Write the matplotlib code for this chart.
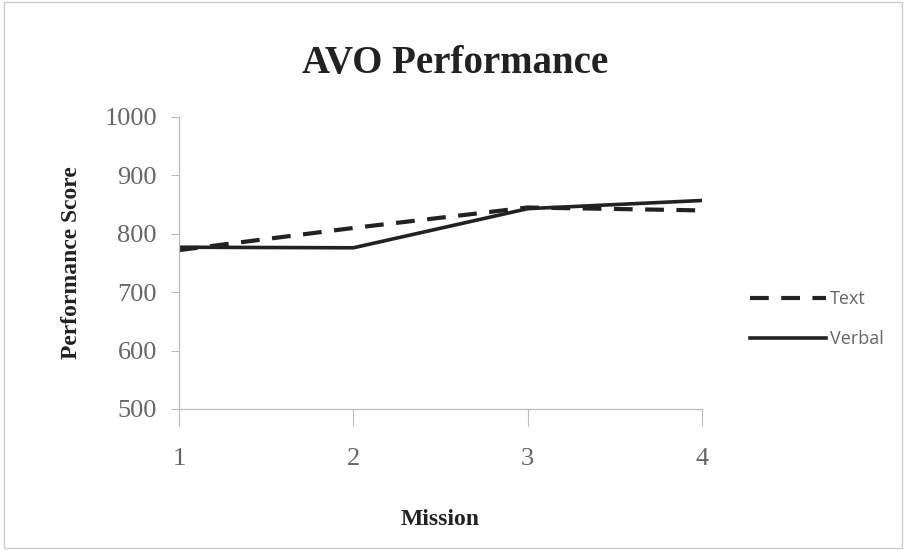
import matplotlib.pyplot as plt
from matplotlib.lines import Line2D

missions = [1, 2, 3, 4]
text_scores = [772, 810, 845, 840]
verbal_scores = [777, 776, 843, 857]
y_ticks = [500, 600, 700, 800, 900, 1000]

fig = plt.figure(figsize=(9.06, 5.5), dpi=100)
ax = fig.add_axes([0.1976, 0.2564, 0.5773, 0.5309])

dash = (0, (4.5, 3))
ax.plot(missions, text_scores, color="#222222", lw=3, ls=dash)
ax.plot(missions, verbal_scores, color="#222222", lw=2.6)

ax.set_xlim(1, 4)
ax.set_ylim(500, 1000)
ax.set_xticks(missions)
ax.set_yticks(y_ticks)

serif = ["Liberation Serif", "DejaVu Serif"]
for lab in ax.get_xticklabels() + ax.get_yticklabels():
    lab.set_family(serif)
    lab.set_fontsize(19)
    lab.set_color("#666666")
ax.tick_params(axis="x", length=12, width=0.8, color="#bbbbbb", pad=16, direction="out")
ax.tick_params(axis="y", length=6, width=0.8, color="#bbbbbb", pad=10)

for s in ["top", "right"]:
    ax.spines[s].set_visible(False)
for s in ["left", "bottom"]:
    ax.spines[s].set_color("#bbbbbb")
    ax.spines[s].set_linewidth(0.9)

ax.set_ylabel("Performance Score", family=serif, fontsize=17, fontweight="bold",
              color="#222222", labelpad=16)
ax.set_xlabel("Mission", family=serif, fontsize=17, fontweight="bold",
              color="#222222", labelpad=28)
fig.text(0.502, 0.885, "AVO Performance", family=serif, fontsize=28,
         fontweight="bold", color="#222222", ha="center", va="center")

handles = [Line2D([], [], color="#222222", lw=3, ls=dash),
           Line2D([], [], color="#222222", lw=2.6)]
fig.legend(handles, ["Text", "Verbal"], loc="center left",
           bbox_to_anchor=(0.81, 0.42), frameon=False, handlelength=4.2,
           handletextpad=0.2, labelspacing=1.2,
           prop={"family": ["Open Sans", "DejaVu Sans"], "size": 13},
           labelcolor="#666666")

# light frame around the figure
fig.add_artist(plt.Rectangle((0.004, 0.004), 0.992, 0.992, transform=fig.transFigure,
                             fill=False, ec="#cccccc", lw=1))

fig.savefig("out.png", dpi=100)
